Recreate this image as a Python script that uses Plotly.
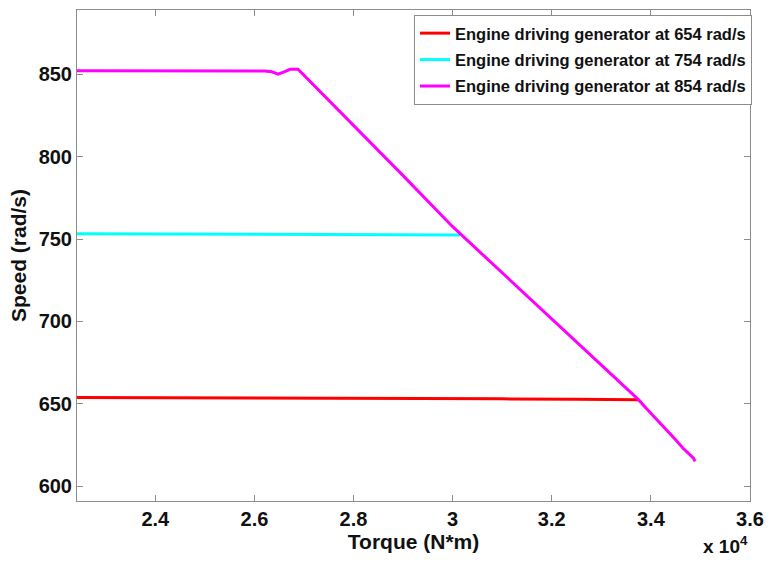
import plotly.graph_objects as go

# Torque values in units of 1e4 N*m, speed in rad/s
red_torque = [2.242, 2.45, 2.6, 2.9, 3.1, 3.25, 3.3, 3.375]
red_speed = [653.8, 653.7, 653.6, 653.3, 653.0, 652.8, 652.6, 652.5]

cyan_torque = [2.242, 2.5, 2.8, 2.95, 3.015]
cyan_speed = [753.2, 753.0, 752.9, 752.5, 752.5]

mag_torque = [2.242, 2.45, 2.55, 2.62, 2.635, 2.648, 2.66, 2.672, 2.688,
              2.8, 2.9, 3.0, 3.1, 3.2, 3.3, 3.375, 3.39, 3.409, 3.43, 3.449,
              3.465, 3.478, 3.486, 3.489]
mag_speed = [852.2, 852.3, 852.0, 852.0, 851.5, 850.0, 851.5, 853.0, 853.0,
             819.0, 788.5, 757.5, 729.5, 701.5, 673.5, 652.5, 647.5, 641.5, 635.0, 628.5,
             623.0, 619.0, 617.0, 615.0]

x_ticks = [2.4, 2.6, 2.8, 3.0, 3.2, 3.4, 3.6]
x_tick_labels = ["2.4", "2.6", "2.8", "3", "3.2", "3.4", "3.6"]
y_ticks = [600, 650, 700, 750, 800, 850]

names = ["Engine driving generator at 654 rad/s",
         "Engine driving generator at 754 rad/s",
         "Engine driving generator at 854 rad/s"]

scale = 1e4
fig = go.Figure()
for i, (tx, sp, col, nm) in enumerate([(red_torque, red_speed, "#ff0000", names[0]),
                                       (cyan_torque, cyan_speed, "#00ffff", names[1]),
                                       (mag_torque, mag_speed, "#ff00ff", names[2])]):
    fig.add_trace(go.Scatter(x=[v * scale for v in tx], y=sp, mode="lines",
                             line=dict(color=col, width=3), name=nm, legendgroup=f"g{i}"))

axis_common = dict(showline=True, linecolor="#8c8c8c", linewidth=1, mirror="ticks",
                   ticks="inside", ticklen=6, tickcolor="#8c8c8c", showgrid=False,
                   zeroline=False,
                   tickfont=dict(family="Liberation Sans, Arial", size=20, color="#111", weight="bold"))

fig.update_layout(
    width=773, height=563,
    margin=dict(l=77, r=17, t=9, b=62),
    paper_bgcolor="white", plot_bgcolor="white",
    xaxis=dict(range=[22420, 36000], tickvals=[v * scale for v in x_ticks],
               ticktext=x_tick_labels,
               title=dict(text="Torque (N*m)", standoff=0,
                          font=dict(family="Liberation Sans, Arial", size=21, color="#111", weight="bold")),
               **axis_common),
    yaxis=dict(range=[591, 889], tickvals=y_ticks,
               title=dict(text="Speed (rad/s)", standoff=6,
                          font=dict(family="Liberation Sans, Arial", size=21, color="#111", weight="bold")),
               **axis_common),
    legend=dict(x=1.003, y=0.99, xanchor="right", yanchor="top",
                bgcolor="white", bordercolor="#8c8c8c", borderwidth=1, tracegroupgap=2,
                font=dict(family="Liberation Sans, Arial", size=16.5, color="#111", weight="bold")),
    showlegend=True,
)

fig.add_annotation(text="x 10<sup>4</sup>", xref="paper", yref="paper", x=1.0, y=-0.118,
                   xanchor="right", yanchor="bottom", showarrow=False,
                   font=dict(family="Liberation Sans, Arial", size=19, color="#111", weight="bold"))

fig.write_html("out.html")
